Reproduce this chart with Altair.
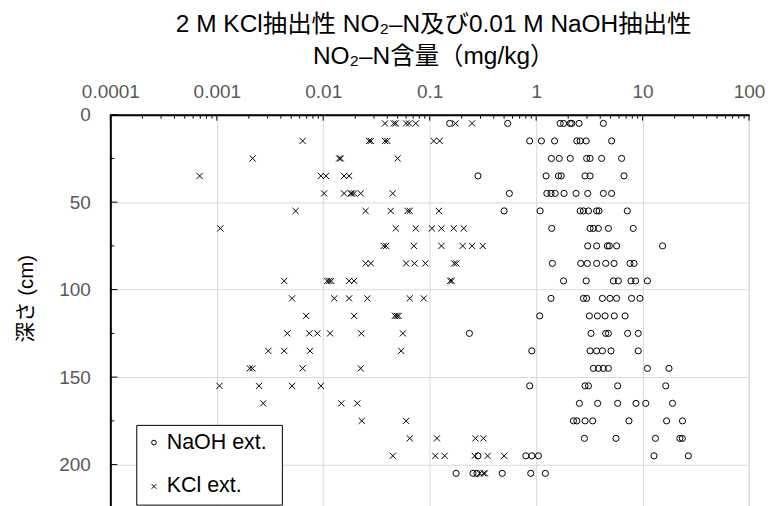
import altair as alt
import pandas as pd

# ---- data ----
depths = [5, 15, 25, 35, 45, 55, 65, 75, 85, 95, 105, 115, 125, 135, 145, 155, 165, 175, 185, 195, 205]

naoh = [
    [0.154, 0.54, 1.68, 1.81, 2.09, 2.16, 2.53, 4.28],
    [0.87, 1.12, 1.49, 2.41, 2.59, 2.95, 5.12],
    [1.39, 1.65, 2.09, 2.98, 3.21, 4.12, 6.35],
    [0.284, 1.24, 1.62, 1.72, 2.88, 3.21, 6.69],
    [0.56, 1.26, 1.38, 1.51, 1.83, 2.37, 3.05, 4.28, 5.12],
    [0.50, 1.09, 2.59, 2.78, 3.10, 3.70, 3.90, 7.18],
    [1.40, 3.21, 3.45, 3.84, 4.77, 8.17],
    [3.05, 3.70, 4.67, 4.87, 5.70, 15.4],
    [1.42, 2.62, 3.03, 3.70, 4.50, 5.39, 7.61, 8.30],
    [1.81, 2.95, 5.31, 5.92, 7.78, 8.59, 11.1],
    [1.38, 2.78, 2.98, 4.19, 4.94, 5.70, 7.88, 9.44],
    [1.08, 3.16, 3.76, 4.44, 5.42, 6.84],
    [0.236, 3.28, 4.50, 4.77, 7.23, 9.10],
    [0.91, 3.21, 3.70, 4.19, 5.05, 9.10],
    [3.45, 3.84, 4.28, 4.77, 11.1, 17.7],
    [0.87, 2.88, 3.10, 5.83, 16.5],
    [2.55, 3.78, 5.83, 8.66, 10.7, 19.1],
    [2.24, 2.41, 2.88, 3.40, 7.45, 16.8, 23.7],
    [2.84, 5.62, 13.2, 22.4, 23.6],
    [0.284, 0.80, 0.91, 1.05, 12.8, 26.9],
    [0.177, 0.255, 0.278, 0.48, 0.89, 1.22],
]

kcl = [
    [0.038, 0.046, 0.048, 0.060, 0.064, 0.074, 0.175, 0.25],
    [0.0064, 0.027, 0.028, 0.038, 0.040, 0.109, 0.124],
    [0.00217, 0.0141, 0.0146, 0.050],
    [0.00069, 0.0095, 0.0106, 0.0157, 0.0175],
    [0.0102, 0.0157, 0.0181, 0.0186, 0.0195, 0.0225, 0.045],
    [0.0055, 0.025, 0.043, 0.062, 0.065, 0.122],
    [0.00108, 0.048, 0.074, 0.105, 0.129, 0.168, 0.209],
    [0.037, 0.039, 0.071, 0.129, 0.204, 0.25, 0.315],
    [0.025, 0.028, 0.060, 0.072, 0.091, 0.17, 0.178],
    [0.0043, 0.0109, 0.0114, 0.0119, 0.0175, 0.0195, 0.156, 0.161],
    [0.0051, 0.0127, 0.0175, 0.026, 0.065, 0.088],
    [0.0069, 0.0195, 0.047, 0.049, 0.051],
    [0.0046, 0.0074, 0.0088, 0.0116, 0.0228, 0.056],
    [0.00305, 0.0043, 0.0075, 0.054],
    [0.00204, 0.00216, 0.0064, 0.0225],
    [0.00106, 0.0025, 0.0051, 0.0095],
    [0.00273, 0.0148, 0.0209],
    [0.0230, 0.060],
    [0.065, 0.117, 0.269, 0.32],
    [0.045, 0.113, 0.138, 0.265, 0.35, 0.50],
    [0.295, 0.32, 0.33],
]

series_names = ["NaOH ext.", "KCl ext."]
x_ticks = [0.0001, 0.001, 0.01, 0.1, 1, 10, 100]
y_ticks = [0, 50, 100, 150, 200]
y_minor_ticks = [25, 75, 125, 175, 225]

rows = []
for d, vals in zip(depths, naoh):
    for v in vals:
        rows.append({"depth": d, "value": v, "series": series_names[0]})
for d, vals in zip(depths, kcl):
    for v in vals:
        rows.append({"depth": d, "value": v, "series": series_names[1]})
df = pd.DataFrame(rows)

x_minor = [k * t for t in x_ticks[:-1] for k in range(2, 10)]

FONT = "Liberation Sans, Arial, Noto Sans CJK JP"

xscale = alt.Scale(type="log", domain=[0.0001, 100], nice=False)
yscale = alt.Scale(domain=[0, 225], reverse=True, nice=False, zero=False)

x_axis = alt.Axis(orient="top", values=x_ticks, format="~g", title=None,
                  grid=True, gridColor="#d9d9d9", gridWidth=1,
                  domainColor="black", domainWidth=2, ticks=False,
                  labelFont=FONT, labelFontSize=19, labelColor="#595959",
                  labelPadding=13, labelFlush=False, labelOverlap=False)
y_axis = alt.Axis(orient="left", values=y_ticks, title="深さ (cm)",
                  grid=True, gridColor="#d9d9d9", gridWidth=1,
                  domainColor="black", domainWidth=2, ticks=False,
                  labelFont=FONT, labelFontSize=19, labelColor="#595959",
                  labelPadding=20, labelFlush=False,
                  titleFont=FONT, titleFontSize=20.5, titleColor="black",
                  titleFontWeight="normal", titleAngle=-90,
                  titleX=-84, titleY=184, titleAlign="center",
                  titleBaseline="middle")

points = alt.Chart(df).mark_point(filled=False, strokeWidth=1, color="black", opacity=1).encode(
    x=alt.X("value:Q", scale=xscale, axis=x_axis, title=None),
    y=alt.Y("depth:Q", scale=yscale, axis=y_axis, title="深さ (cm)"),
    shape=alt.Shape("series:N",
                    scale=alt.Scale(domain=series_names,
                                    range=["circle", "M-1,-1L1,1M1,-1L-1,1"]),
                    sort=series_names,
                    legend=alt.Legend(title="ii", titleOrient="right", titleColor="rgba(0,0,0,0)",
                                      titleFontSize=10, titlePadding=2,
                                      orient="none", legendX=26, legendY=311,
                                      direction="vertical", fillColor="white",
                                      strokeColor="black", padding=7, rowPadding=21,
                                      labelFont=FONT, labelFontSize=21.5, labelColor="black",
                                      symbolSize=22, symbolStrokeColor="black",
                                      symbolStrokeWidth=1, labelOffset=2)),
    size=alt.value(38),
)

xt_major = alt.Chart(pd.DataFrame({"t": x_ticks})).mark_rule(color="black", strokeWidth=1).encode(
    x=alt.X("t:Q", scale=xscale, axis=x_axis, title=None), y=alt.value(0), y2=alt.value(6))
xt_minor = alt.Chart(pd.DataFrame({"t": x_minor})).mark_rule(color="black", strokeWidth=1).encode(
    x=alt.X("t:Q", scale=xscale, axis=x_axis, title=None), y=alt.value(0), y2=alt.value(4))
yt_major = alt.Chart(pd.DataFrame({"t": y_ticks})).mark_rule(color="black", strokeWidth=1).encode(
    y=alt.Y("t:Q", scale=yscale, axis=y_axis, title="深さ (cm)"), x=alt.value(0), x2=alt.value(7))
yt_minor = alt.Chart(pd.DataFrame({"t": y_minor_ticks})).mark_rule(color="black", strokeWidth=1).encode(
    y=alt.Y("t:Q", scale=yscale, axis=y_axis, title="深さ (cm)"), x=alt.value(0), x2=alt.value(4))

chart = alt.layer(points, xt_major, xt_minor, yt_major, yt_minor).properties(
    width=640.4, height=394.7,
    autosize=alt.AutoSizeParams(type="none"),
    padding={"left": 102.6, "top": 106.3, "right": 20, "bottom": 0},
    title=alt.Title(["2 M KCl抽出性 NO₂–N及び0.01 M NaOH抽出性", "NO₂–N含量（mg/kg）"],
                    font=FONT, fontSize=24.5, fontWeight="normal", color="black",
                    lineHeight=32, anchor="middle", offset=13, dx=4),
).configure_view(stroke=None).configure(background="white")

chart.save("out.html", embed_options={"renderer": "svg", "actions": False})
